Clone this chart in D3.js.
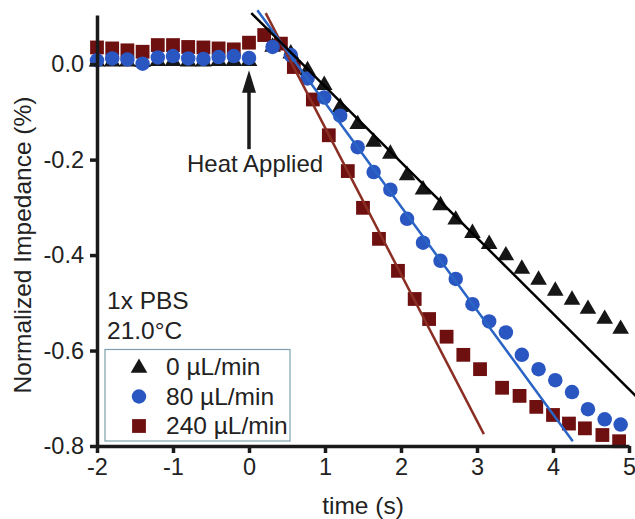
<!DOCTYPE html>
<html><head><meta charset="utf-8">
<script src="https://cdn.jsdelivr.net/npm/d3@7"></script>
<style>body{margin:0;background:#fff}svg{display:block}text{font-family:"Liberation Sans",Arial,sans-serif;fill:#222}</style>
</head><body>
<svg id="c" width="635" height="519"></svg>
<script>
// ---- data ----
const preTimes = [-2,-1.8,-1.6,-1.4,-1.2,-1,-0.8,-0.6,-0.4,-0.2,0];
const pre0   = [0.005,0.005,0.005,0.004,0.006,0.006,0.005,0.005,0.006,0.006,0.006];
const pre80  = [0.008,0.012,0.010,0.001,0.014,0.017,0.012,0.011,0.015,0.017,0.013];
const pre240 = [0.035,0.033,0.029,0.026,0.040,0.040,0.036,0.035,0.033,0.031,0.045];

const postTimes80 = [0.31,0.55,0.77,0.99,1.20,1.43,1.64,1.86,2.08,2.29,2.52,2.72,2.94,3.16,3.38,3.59,3.81,4.03,4.25,4.46,4.68,4.89];
const post0  = [0.036,0.022,-0.013,-0.044,-0.090,-0.126,-0.163,-0.188,-0.233,-0.263,-0.296,-0.326,-0.354,-0.377,-0.401,-0.429,-0.452,-0.475,-0.494,-0.513,-0.534,-0.555];
const post80 = [0.036,0.019,-0.030,-0.070,-0.108,-0.174,-0.226,-0.263,-0.324,-0.374,-0.412,-0.450,-0.503,-0.539,-0.562,-0.609,-0.639,-0.662,-0.687,-0.723,-0.744,-0.755];
const postTimes240 = [0.20,0.42,0.59,0.84,1.05,1.30,1.50,1.71,1.96,2.18,2.37,2.60,2.82,3.04,3.33,3.56,3.78,4.00,4.21,4.42,4.65,4.87];
const post240 = [0.061,0.043,-0.006,-0.074,-0.149,-0.224,-0.301,-0.366,-0.433,-0.492,-0.534,-0.571,-0.609,-0.639,-0.678,-0.695,-0.718,-0.735,-0.753,-0.763,-0.777,-0.790];

// linear fits: [t, value] endpoints
const fit0   = [[0.03,0.107],[5.10,-0.697]];
const fit80  = [[0.11,0.113],[4.26,-0.790]];
const fit240 = [[0.22,0.107],[3.09,-0.775]];

const xTicks = [-2,-1,0,1,2,3,4,5];
const yTicks = [0,-0.2,-0.4,-0.6,-0.8];
const seriesNames = ["0 µL/min","80 µL/min","240 µL/min"];
const noteLines = ["1x PBS","21.0°C"];
const annotation = "Heat Applied";

// ---- chart ----
const svg = d3.select("#c");
const x = d3.scaleLinear().domain([-2,5]).range([97,629]);
const y = d3.scaleLinear().domain([-0.8,0.103]).range([446,15]);

const C = {k:"#161616", b:"#2a56c2", r:"#6e0f10", rl:"#8a2e24", bl:"#2a64c4"};

const mk = (times, vals) => times.map((t,i)=>[t, vals[i]]);
const s0 = mk(preTimes,pre0).concat(mk(postTimes80,post0));
const s80 = mk(preTimes,pre80).concat(mk(postTimes80,post80));
const s240 = mk(preTimes,pre240).concat(mk(postTimes240,post240));

const tri = d3.symbol().type(d3.symbolTriangle).size(120);
const cir = d3.symbol().type(d3.symbolCircle).size(165);
const sq  = d3.symbol().type(d3.symbolSquare).size(190);

function marks(data, sym, col){
  svg.append("g").selectAll("path").data(data).join("path")
    .attr("d", sym()).attr("fill", col)
    .attr("transform", d=>`translate(${x(d[0])},${y(d[1])})`);
}
marks(s0, tri, C.k);
marks(s240, sq, C.r);
marks(s80, cir, C.b);

const line = d3.line().x(d=>x(d[0])).y(d=>y(d[1]));
svg.append("path").attr("d", line(fit240)).attr("stroke", C.rl).attr("stroke-width",2.5).attr("fill","none");
svg.append("path").attr("d", line(fit80)).attr("stroke", C.bl).attr("stroke-width",2.5).attr("fill","none");
svg.append("path").attr("d", line(fit0)).attr("stroke", "#000").attr("stroke-width",2.5).attr("fill","none");

// axes
const xa = svg.append("g").attr("transform",`translate(0,${y(-0.8)})`)
  .call(d3.axisBottom(x).tickValues(xTicks).tickSize(7).tickSizeOuter(0).tickPadding(5).tickFormat(d3.format("d")));
const ya = svg.append("g").attr("transform",`translate(${x(-2)},0)`)
  .call(d3.axisLeft(y).tickValues(yTicks).tickSize(7).tickSizeOuter(0).tickPadding(6).tickFormat(d3.format(".1f")));
[xa,ya].forEach(a=>{
  a.select(".domain").attr("stroke","#1a1a1a").attr("stroke-width",3.5);
  a.selectAll(".tick line").attr("stroke","#1a1a1a").attr("stroke-width",3.5);
  a.selectAll(".tick text").attr("font-size",23.5).attr("fill","#222").style("font-family",'"Liberation Sans",Arial,sans-serif');
});
ya.selectAll(".tick text").text(d=> d===0 ? "0.0" : d3.format(".1f")(d).replace("−","-"));
xa.selectAll(".tick text").text(d=> String(d));

// axis titles
svg.append("text").attr("x",363).attr("y",514).attr("text-anchor","middle").attr("font-size",24.5).text("time (s)");
svg.append("text").attr("transform","translate(31,245) rotate(-90)").attr("text-anchor","middle").attr("font-size",24.5).text("Normalized Impedance (%)");

// annotation arrow
const ax = x(0);
svg.append("line").attr("x1",ax).attr("x2",ax).attr("y1",y(-0.178)).attr("y2",y(-0.04))
  .attr("stroke","#1a1a1a").attr("stroke-width",3.5);
svg.append("path").attr("fill","#1a1a1a")
  .attr("d",`M${ax},${y(-0.013)} L${ax-7},${y(-0.06)} L${ax+7},${y(-0.06)} Z`);
svg.append("text").attr("x",x(0.08)).attr("y",y(-0.226)).attr("text-anchor","middle").attr("font-size",24).text(annotation);

// notes
svg.selectAll(".note").data(noteLines).join("text").attr("class","note")
  .attr("x",107).attr("y",(d,i)=>309+i*30).attr("font-size",24.5).text(d=>d);

// legend
svg.append("rect").attr("x",105).attr("y",349.5).attr("width",185).attr("height",91.5)
  .attr("fill","#fff").attr("stroke","#7fa0ae").attr("stroke-width",1.2);
const lsym = [tri, cir, sq], lcol = [C.k, C.b, C.r];
seriesNames.forEach((n,i)=>{
  const cy = 367 + i*29.5;
  svg.append("path").attr("d", lsym[i]()).attr("fill", lcol[i]).attr("transform",`translate(139,${cy+ (i===0?1:0)})`);
  svg.append("text").attr("x",166).attr("y",cy+8).attr("font-size",24.5).text(n);
});
</script>
</body></html>
